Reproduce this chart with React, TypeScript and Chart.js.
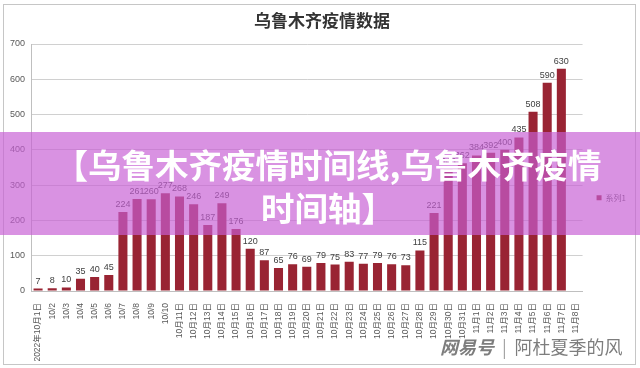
import React, { useEffect, useRef } from "react";
import { Chart, registerables } from "chart.js";

Chart.register(...registerables);

const categories: string[] = [
  "2022年10月1日", "10/2", "10/3", "10/4", "10/5", "10/6", "10/7", "10/8", "10/9", "10/10",
  "10月11日", "10月12日", "10月13日", "10月14日", "10月15日", "10月16日", "10月17日", "10月18日",
  "10月19日", "10月20日", "10月21日", "10月22日", "10月23日", "10月24日", "10月25日", "10月26日",
  "10月27日", "10月28日", "10月29日", "10月30日", "10月31日",
  "11月1日", "11月2日", "11月3日", "11月4日", "11月5日", "11月6日", "11月7日", "11月8日",
];

const seriesName = "系列1";
const values: (number | null)[] = [
  7, 8, 10, 35, 40, 45, 224, 261, 260, 277,
  268, 246, 187, 249, 176, 120, 87, 65,
  76, 69, 79, 75, 83, 77, 79, 76,
  73, 115, 221, 345, 362,
  384, 392, 400, 435, 508, 590, 630, null,
];

const yTicks = { min: 0, max: 700, step: 100 };

const chartTitle = "乌鲁木齐疫情数据";
const bannerLine1 = "【乌鲁木齐疫情时间线,乌鲁木齐疫情";
const bannerLine2 = "时间轴】";
const watermarkBrand = "网易号";
const watermarkAuthor = "阿杜夏季的风";

const FONT = "'Noto Sans CJK SC', 'Noto Sans', sans-serif";
const SMALL_FONT = "'Liberation Sans', 'Noto Sans CJK SC', sans-serif";
const BAR_COLOR = "#992433";

const valueLabels = {
  id: "valueLabels",
  afterDatasetsDraw(chart: any) {
    const ctx = chart.ctx;
    const meta = chart.getDatasetMeta(0);
    ctx.save();
    ctx.font = `9px ${SMALL_FONT}`;
    ctx.fillStyle = "#404040";
    ctx.textAlign = "center";
    ctx.textBaseline = "bottom";
    meta.data.forEach((el: any, i: number) => {
      const v = values[i];
      if (v == null) return;
      ctx.fillText(String(v), el.x, el.y - 3);
    });
    ctx.restore();
  },
};

export default function App() {
  const canvasRef = useRef<HTMLCanvasElement | null>(null);

  useEffect(() => {
    if (!canvasRef.current) return;
    const chart = new Chart(canvasRef.current, {
      type: "bar",
      data: {
        labels: categories,
        datasets: [
          {
            label: seriesName,
            data: values as any,
            backgroundColor: BAR_COLOR,
            borderColor: BAR_COLOR,
            borderWidth: 0,
            barPercentage: 0.64,
            categoryPercentage: 1,
          },
        ],
      },
      options: {
        animation: false,
        responsive: false,
        maintainAspectRatio: false,
        layout: { padding: { left: 8, right: 4, top: 0, bottom: 0 } },
        plugins: {
          title: {
            display: true,
            text: chartTitle,
            color: "#333333",
            font: { family: FONT, size: 17, weight: "bold" },
            padding: { top: 10, bottom: 13.6 },
          },
          legend: {
            position: "right",
            title: {
              display: true,
              text: " ",
              padding: 9,
              font: { family: FONT, size: 8 },
            },
            labels: {
              boxWidth: 5,
              boxHeight: 5,
              padding: 14,
              color: "#595959",
              font: { family: FONT, size: 8 },
            },
          },
          tooltip: { enabled: false },
        },
        scales: {
          x: {
            grid: { display: false },
            border: { display: true, color: "#bfbfbf" },
            ticks: {
              autoSkip: false,
              minRotation: 90,
              maxRotation: 90,
              padding: 4,
              color: "#595959",
              font: { family: SMALL_FONT, size: 8.5 },
            },
            afterFit: (s: any) => {
              s.height = 77;
            },
          },
          y: {
            min: yTicks.min,
            max: yTicks.max,
            ticks: {
              stepSize: yTicks.step,
              padding: 6,
              color: "#595959",
              font: { family: SMALL_FONT, size: 9 },
            },
            grid: { color: "#d0d0d0", drawTicks: false },
            border: { display: true, color: "#bfbfbf" },
            afterFit: (s: any) => {
              s.width = 23;
            },
          },
        },
      },
      plugins: [valueLabels],
    });
    return () => chart.destroy();
  }, []);

  return (
    <div
      style={{
        position: "fixed",
        left: 0,
        top: 0,
        width: 640,
        height: 368,
        background: "#ffffff",
        overflow: "hidden",
        fontFamily: FONT,
      }}
    >
      <canvas ref={canvasRef} width={640} height={368} style={{ display: "block" }} />
      <div
        style={{
          position: "absolute",
          left: 3,
          top: 4,
          width: 633,
          height: 361,
          boxSizing: "border-box",
          border: "1px solid #c6c6c6",
          pointerEvents: "none",
        }}
      />
      <div
        style={{
          position: "absolute",
          left: 0,
          top: 132,
          width: 640,
          height: 103,
          boxSizing: "border-box",
          paddingTop: 10,
          paddingLeft: 16,
          background: "rgba(199,95,212,0.68)",
          color: "#ffffff",
          fontWeight: 700,
          fontSize: 33.5,
          lineHeight: "43px",
          textAlign: "center",
          whiteSpace: "nowrap",
        }}
      >
        <div>{bannerLine1}</div>
        <div>{bannerLine2}</div>
      </div>
      <div
        style={{
          position: "absolute",
          left: 440,
          top: 334,
          fontSize: 18,
          lineHeight: "24px",
          color: "#7d7d7d",
          whiteSpace: "nowrap",
          textShadow: "0 0 2px #ffffff",
        }}
      >
        <span style={{ fontStyle: "italic", fontWeight: 700 }}>{watermarkBrand}</span>
        <span style={{ margin: "0 8px", fontWeight: 300 }}>|</span>
        <span>{watermarkAuthor}</span>
      </div>
    </div>
  );
}
